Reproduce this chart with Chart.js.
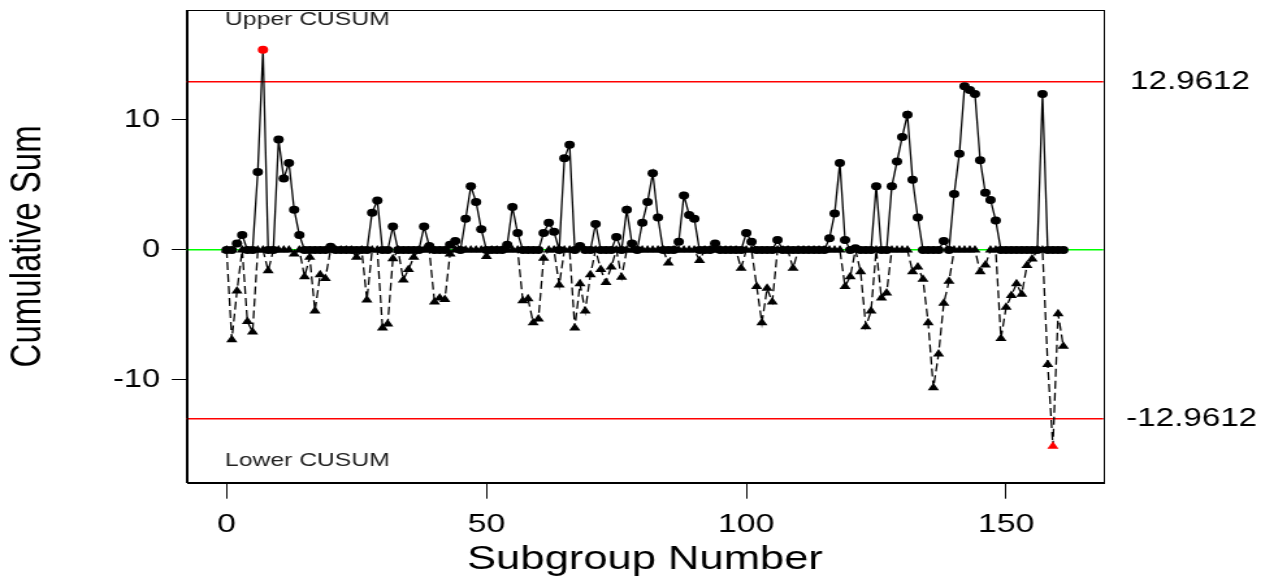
<!DOCTYPE html>
<html lang="es">
<head>
<meta charset="utf-8">
<title>CUSUM</title>
<script src="https://cdn.jsdelivr.net/npm/chart.js@4.4.1/dist/chart.umd.min.js"></script>
<style>
  html, body { margin: 0; padding: 0; background: #fff; overflow: hidden; }
</style>
</head>
<body>
<!-- el original está estirado en horizontal, el lienzo se escala igual -->
<canvas id="graficoCusum" width="980" height="580" style="display:block;width:1274px;height:580px"></canvas>
<script>
// Valores, subgrupos 0 a 161
const cusumSuperior = [
  0, 0, 0.5, 1.15, 0, 0, 6.0, 15.4, 0, 0,
  8.5, 5.5, 6.7, 3.1, 1.15, 0, 0, 0, 0, 0,
  0.25, 0, 0, 0, 0, 0, 0, 0, 2.87, 3.8,
  0, 0, 1.8, 0, 0, 0, 0, 0, 1.8, 0.3,
  0, 0, 0, 0.4, 0.7, 0, 2.4, 4.9, 3.7, 1.6,
  0, 0, 0, 0, 0.4, 3.3, 1.3, 0, 0, 0,
  0, 1.3, 2.1, 1.4, 0, 7.05, 8.1, 0, 0.3, 0,
  0, 2.0, 0, 0, 0, 1.0, 0, 3.1, 0.5, 0,
  2.1, 3.7, 5.9, 2.5, 0, 0, 0, 0.64, 4.2, 2.7,
  2.4, 0, 0, 0, 0.5, 0, 0, 0, 0, 0,
  1.3, 0.64, 0, 0, 0, 0, 0.77, 0, 0, 0,
  0, 0, 0, 0, 0, 0, 0.9, 2.8, 6.7, 0.77,
  0, 0.13, 0, 0, 0, 4.9, 0, 0, 4.9, 6.8,
  8.7, 10.4, 5.4, 2.5, 0, 0, 0, 0, 0.7, 0,
  4.3, 7.4, 12.6, 12.3, 12.0, 6.9, 4.4, 3.85, 2.26, 0,
  0, 0, 0, 0, 0, 0, 0, 12.0, 0, 0,
  0, 0
];

const cusumInferior = [
  0, -6.9, -3.15, 0, -5.5, -6.3, 0, 0, -1.6, 0,
  0, 0, 0, -0.3, 0, -2.05, -0.56, -4.7, -1.9, -2.2,
  0, 0, 0, 0, 0, -0.56, 0, -3.85, 0, 0,
  -6.0, -5.7, -0.67, 0, -2.3, -1.5, -0.56, 0, 0, 0,
  -4.0, -3.7, -3.8, -0.3, 0, 0, 0, 0, 0, 0,
  -0.5, 0, 0, 0, 0, 0, 0, -3.9, -3.75, -5.6,
  -5.3, -0.64, 0, 0, -2.7, 0, 0, -6.0, -2.6, -4.7,
  -1.9, 0, -1.5, -2.5, -1.3, 0, -2.1, 0, 0, 0,
  0, 0, 0, 0, 0, -1.0, 0, 0, 0, 0,
  0, -0.8, 0, 0, 0, 0, 0, 0, 0, -1.4,
  0, 0, -2.8, -5.6, -2.95, -4.0, 0, 0, 0, -1.4,
  0, 0, 0, 0, 0, 0, 0, 0, 0, -2.8,
  -2.05, 0, -1.67, -5.9, -4.7, 0, -3.7, -3.3, 0, 0,
  0, 0, -1.67, -1.3, -2.26, -5.6, -10.6, -8.0, -4.1, -2.4,
  0, 0, 0, 0, 0, -1.67, -1.15, 0, 0, -6.8,
  -4.4, -3.5, -2.6, -3.4, -1.2, -0.7, 0, 0, -8.8, -15.1,
  -4.9, -7.4
];

const limiteDecision = 12.9612;
const ticksX = [0, 50, 100, 150];
const ticksY = [-10, 0, 10];
const rangoX = [-7.68, 168.7];
const rangoY = [-17.9, 18.46];

const subgrupos = cusumSuperior.map((_, i) => i);

// Puntos fuera de los límites en rojo
const coloresSuperior = cusumSuperior.map(v => v > limiteDecision ? '#ff0000' : '#000000');
const coloresInferior = cusumInferior.map(v => v < -limiteDecision ? '#ff0000' : '#000000');

const fuente = "'Liberation Sans', Arial, sans-serif";
Chart.defaults.font.family = fuente;
Chart.defaults.color = '#000';

// Líneas horizontales de referencia como rectángulos finos
function lineaHorizontal(ctx, area, yPix, color, grosor) {
    ctx.fillStyle = color;
    ctx.fillRect(area.left, Math.round(yPix - grosor / 2), area.right - area.left, grosor);
}

// Líneas de referencia, marco y textos
const decoracionCusum = {
    id: 'decoracionCusum',
    beforeDatasetsDraw(chart) {
        const { ctx, chartArea, scales: { y } } = chart;
        ctx.save();

        // línea central verde
        lineaHorizontal(ctx, chartArea, y.getPixelForValue(0), 'rgb(0, 255, 0)', 1.5);

        // límites de decisión en rojo
        lineaHorizontal(ctx, chartArea, y.getPixelForValue(limiteDecision), 'rgb(255, 0, 0)', 1.5);
        lineaHorizontal(ctx, chartArea, y.getPixelForValue(-limiteDecision), 'rgb(255, 0, 0)', 1.5);
        ctx.restore();
    },
    afterDraw(chart) {
        const { ctx, chartArea, scales: { y } } = chart;
        ctx.save();

        // marco completo estilo R
        ctx.strokeStyle = '#000';
        ctx.lineWidth = 1;
        ctx.strokeRect(Math.round(chartArea.left) + 0.5, Math.round(chartArea.top) + 0.5,
            Math.round(chartArea.right - chartArea.left), Math.round(chartArea.bottom - chartArea.top));

        // etiquetas dentro del gráfico
        ctx.fillStyle = '#222';
        ctx.font = '19px ' + fuente;
        ctx.textAlign = 'left';
        ctx.textBaseline = 'alphabetic';
        ctx.fillText('Upper CUSUM', chartArea.left + 29.5, chartArea.top + 15);
        ctx.fillText('Lower CUSUM', chartArea.left + 29.5, chartArea.bottom - 17);

        // valores de los límites a la derecha
        ctx.fillStyle = '#000';
        ctx.font = '25.5px ' + fuente;
        ctx.textAlign = 'center';
        ctx.textBaseline = 'middle';
        ctx.fillText(String(limiteDecision), chartArea.right + 66.7, y.getPixelForValue(limiteDecision));
        ctx.fillText(String(-limiteDecision), chartArea.right + 68, y.getPixelForValue(-limiteDecision));
        ctx.restore();
    }
};

const ctxCusum = document.getElementById('graficoCusum').getContext('2d');
new Chart(ctxCusum, {
    type: 'line',
    data: {
        datasets: [{
            label: 'Upper CUSUM',
            data: subgrupos.map(i => ({ x: i, y: cusumSuperior[i] })),
            borderColor: '#000',
            borderWidth: 1.3,
            pointStyle: 'circle',
            pointRadius: 4,
            pointBorderWidth: 0,
            pointBackgroundColor: coloresSuperior,
            pointBorderColor: coloresSuperior,
            tension: 0
        }, {
            label: 'Lower CUSUM',
            data: subgrupos.map(i => ({ x: i, y: cusumInferior[i] })),
            borderColor: '#000',
            borderWidth: 1.3,
            borderDash: [8, 4],
            pointStyle: 'triangle',
            pointRadius: 5,
            pointBorderWidth: 0,
            pointBackgroundColor: coloresInferior,
            pointBorderColor: coloresInferior,
            tension: 0
        }]
    },
    options: {
        responsive: false,
        animation: false,
        devicePixelRatio: 1,
        layout: { padding: { top: 10, right: 131.3, left: 0, bottom: 0 } },
        plugins: {
            legend: { display: false },
            tooltip: { enabled: false }
        },
        scales: {
            x: {
                type: 'linear',
                min: rangoX[0],
                max: rangoX[1],
                afterFit: scale => {
                    scale.height = 97.3;
                    scale.paddingLeft = 0;
                    scale.paddingRight = 0;
                },
                afterBuildTicks: scale => { scale.ticks = ticksX.map(v => ({ value: v })); },
                grid: { drawOnChartArea: false, drawTicks: true, tickLength: 16, tickColor: '#000' },
                border: { display: true, color: '#000', width: 1 },
                ticks: { font: { size: 26 }, color: '#000', padding: 11, maxRotation: 0 },
                title: {
                    display: true,
                    text: 'Subgroup Number',
                    font: { size: 33.5 },
                    color: '#000',
                    padding: { top: 0, bottom: 0 }
                }
            },
            y: {
                type: 'linear',
                min: rangoY[0],
                max: rangoY[1],
                afterFit: scale => {
                    scale.width = 143.6;
                    scale.paddingTop = 0;
                    scale.paddingBottom = 0;
                },
                afterBuildTicks: scale => { scale.ticks = ticksY.map(v => ({ value: v })); },
                grid: { drawOnChartArea: false, drawTicks: true, tickLength: 11.5, tickColor: '#000' },
                border: { display: true, color: '#000', width: 1 },
                ticks: { font: { size: 25 }, color: '#000', padding: 9 },
                title: {
                    display: true,
                    text: 'Cumulative Sum',
                    font: { size: 33 },
                    color: '#000',
                    padding: { top: 1.7, bottom: 0 }
                }
            }
        }
    },
    plugins: [decoracionCusum]
});
</script>
</body>
</html>
